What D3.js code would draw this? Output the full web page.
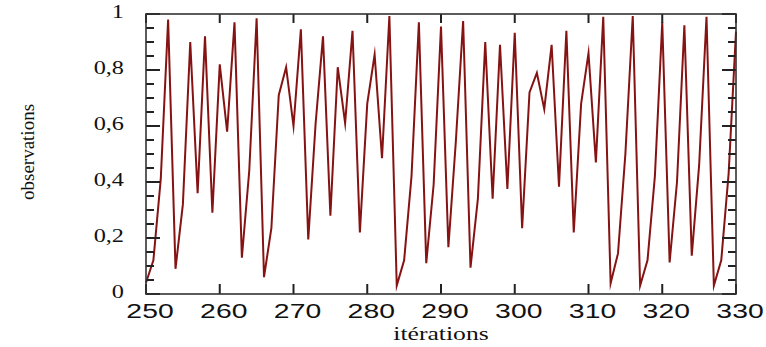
<!DOCTYPE html>
<html><head><meta charset="utf-8">
<script src="https://cdn.jsdelivr.net/npm/d3@7"></script>
<style>html,body{margin:0;padding:0;background:#fff;}svg{display:block;}</style>
</head><body>
<script>
const iterStart = 250;
const observations = [
 0.04,0.12,0.41,0.98,0.09,0.32,0.90,0.36,0.92,0.29,
 0.82,0.58,0.97,0.13,0.44,0.985,0.06,0.235,0.71,0.81,
 0.60,0.945,0.195,0.61,0.92,0.28,0.81,0.61,0.94,0.22,
 0.68,0.855,0.485,0.993,0.03,0.12,0.42,0.97,0.11,0.39,
 0.955,0.167,0.54,0.975,0.094,0.34,0.90,0.34,0.89,0.375,
 0.933,0.235,0.72,0.79,0.66,0.89,0.383,0.94,0.22,0.68,
 0.86,0.47,0.99,0.038,0.145,0.50,0.993,0.03,0.12,0.42,
 0.97,0.113,0.40,0.96,0.137,0.46,0.99,0.03,0.12,0.43,0.937
];
const xTicks = [250,260,270,280,290,300,310,320,330];
const yTicks = [0,0.2,0.4,0.6,0.8,1];
const yTickLabels = ["0","0,2","0,4","0,6","0,8","1"];
const yMinorTicks = [0.05,0.1,0.15,0.25,0.3,0.35,0.45,0.5,0.55,0.65,0.7,0.75,0.85,0.9,0.95];
const xLabel = "itérations";
const yLabel = "observations";

const W = 766, H = 347;
const m = {left:146, right:736, top:14, bottom:294};
const svg = d3.select("body").append("svg").attr("width",W).attr("height",H);
svg.append("rect").attr("width",W).attr("height",H).attr("fill","#fff");

const x = d3.scaleLinear().domain([250,330]).range([m.left,m.right]);
const y = d3.scaleLinear().domain([0,1]).range([m.bottom,m.top]);
const frameColor = "#333";
const SX = 1.35;

// line
const line = d3.line().x((d,i)=>x(iterStart+i)).y(d=>y(d));
svg.append("path").datum(observations).attr("d",line)
  .attr("fill","none").attr("stroke","#861313").attr("stroke-width",2)
  .attr("stroke-linejoin","miter").attr("stroke-miterlimit",10);

// ticks as filled rects (inward), built from tick arrays
const yTickData = yTicks.map(v=>({v,len:14})).concat(yMinorTicks.map(v=>({v,len:8})));
const tg = svg.append("g").attr("fill","#222");
tg.selectAll("rect.yl").data(yTickData).join("rect").attr("class","yl")
  .attr("x",m.left).attr("y",d=>y(d.v)-1).attr("width",d=>d.len).attr("height",2);
tg.selectAll("rect.yr").data(yTickData).join("rect").attr("class","yr")
  .attr("x",d=>m.right-d.len).attr("y",d=>y(d.v)-1).attr("width",d=>d.len).attr("height",2);
tg.selectAll("rect.xb").data(xTicks).join("rect").attr("class","xb")
  .attr("x",d=>x(d)-1).attr("y",m.bottom-10).attr("width",2).attr("height",10);
tg.selectAll("rect.xt").data(xTicks).join("rect").attr("class","xt")
  .attr("x",d=>x(d)-1).attr("y",m.top).attr("width",2).attr("height",9);

// frame
svg.append("rect").attr("x",m.left).attr("y",m.top).attr("width",m.right-m.left).attr("height",m.bottom-m.top)
  .attr("fill","none").attr("stroke",frameColor).attr("stroke-width",1.6);

// x tick labels
svg.selectAll("text.xt").data(xTicks).join("text").attr("class","xt")
  .attr("transform",d=>`translate(${x(d)+4},318) scale(${SX},1)`)
  .attr("text-anchor","middle").attr("font-family","Liberation Sans, Arial, sans-serif")
  .attr("font-size",21).attr("fill","#111").text(d=>d);
// y tick labels
svg.selectAll("text.yt").data(yTicks).join("text").attr("class","yt")
  .attr("transform",d=>`translate(124,${y(d)}) scale(${SX},1)`)
  .attr("text-anchor","end").attr("dominant-baseline","middle")
  .attr("font-family","Liberation Serif, Times New Roman, serif")
  .attr("font-size",18).attr("fill","#111").text((d,i)=>yTickLabels[i]);
// axis titles
svg.append("text").attr("transform",`translate(441,340) scale(${SX},1)`)
  .attr("text-anchor","middle").attr("font-family","Liberation Serif, Times New Roman, serif")
  .attr("font-size",19).attr("fill","#111").text(xLabel);
svg.append("text").attr("transform",`translate(34,152) rotate(-90)`)
  .attr("text-anchor","middle").attr("font-family","Liberation Serif, Times New Roman, serif")
  .attr("font-size",19).attr("fill","#111").text(yLabel);
</script>
</body></html>
